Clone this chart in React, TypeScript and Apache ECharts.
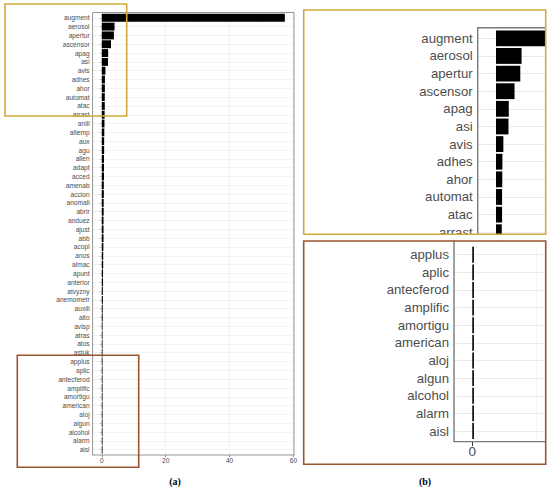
import React, { useEffect, useRef } from "react";
import * as echarts from "echarts";

const categories = [
  "augment", "aerosol", "apertur", "ascensor", "apag", "asi", "avis", "adhes", "ahor", "automat",
  "atac", "arrast", "anill", "altemp", "aux", "agu", "allen", "adapt", "acced", "amenab",
  "accion", "anomali", "abrir", "anduez", "ajust", "abb", "acopl", "anos", "almac", "apunt",
  "anterior", "atvyzny", "anemometr", "auxili", "alto", "avisp", "atras", "atos", "astuk", "applus",
  "aplic", "antecferod", "amplific", "amortigu", "american", "aloj", "algun", "alcohol", "alarm", "aisl",
];

const values = [
  57.3, 4.0, 3.8, 2.9, 2.0, 1.95, 1.15, 1.0, 0.98, 0.95,
  0.95, 0.9, 0.85, 0.8, 0.75, 0.75, 0.7, 0.7, 0.7, 0.65,
  0.65, 0.6, 0.6, 0.55, 0.55, 0.55, 0.5, 0.45, 0.45, 0.4,
  0.4, 0.35, 0.35, 0.3, 0.3, 0.25, 0.25, 0.25, 0.25, 0.25,
  0.25, 0.25, 0.25, 0.25, 0.25, 0.25, 0.25, 0.25, 0.25, 0.25,
];

const mainTicks = [0, 20, 40, 60];
const mainMinorTicks = [10, 30, 50];
const insetTicks = [0];
const insetMinorTicks = [10];
const topInsetRange = [0, 11];
const bottomInsetRange = [39, 49];
const captions = ["(a)", "(b)"];

const FONT = '"Liberation Sans", Arial, Helvetica, sans-serif';
const SERIF = '"Liberation Serif", "Times New Roman", serif';
const LABEL = "#4d4d4d";
const TICK = "#333333";
const GRID = "#ebebeb";
const BORDER = "#7a7a7a";
const GOLD = "#d2aa3c";
const BROWN = "#9a5530";

const X_MIN = -2.865;
const X_MAX = 60.165;

function gridLineSeries(
  axisIdx: number,
  range: number[],
  major: number[],
  minor: number[],
  w: number
) {
  const rows: any[] = [];
  for (let i = range[0]; i <= range[1]; i++) {
    rows.push({ yAxis: i, lineStyle: { color: GRID, width: w, type: "solid" } });
  }
  const cols = major.map((v) => ({ xAxis: v, lineStyle: { color: GRID, width: w, type: "solid" } }));
  const mins = minor.map((v) => ({ xAxis: v, lineStyle: { color: "#f3f3f3", width: w * 0.6, type: "solid" } }));
  return {
    type: "line",
    xAxisIndex: axisIdx,
    yAxisIndex: axisIdx,
    data: [],
    z: 1,
    silent: true,
    markLine: {
      z: 1,
      silent: true,
      symbol: ["none", "none"],
      label: { show: false },
      emphasis: { disabled: true },
      animation: false,
      data: [...mins, ...rows, ...cols],
    },
  };
}

function barSeries(axisIdx: number) {
  return {
    type: "bar",
    xAxisIndex: axisIdx,
    yAxisIndex: axisIdx,
    data: values,
    barWidth: "90%",
    itemStyle: { color: "#000000" },
    z: 6,
    silent: true,
    clip: true,
  };
}

function caption(text: string, x: number, y: number) {
  return {
    type: "text",
    z: 101,
    silent: true,
    x,
    y,
    style: {
      text,
      fontFamily: SERIF,
      fontWeight: "bold",
      fontSize: 10,
      fill: "#000000",
      align: "center",
      verticalAlign: "middle",
      textAlign: "center",
      textVerticalAlign: "middle",
    },
  };
}

export default function App() {
  const ref = useRef<HTMLDivElement>(null);

  useEffect(() => {
    if (!ref.current) return;
    const chart = echarts.init(ref.current, undefined, { renderer: "svg" });

    const s = 3.195; // px per unit in main panel
    const s2 = s * 2;

    const option: any = {
      animation: false,
      backgroundColor: "#ffffff",
      grid: [
        { left: 92.6, top: 13.38, width: 201.4, height: 440.74, outerBoundsMode: "none", containLabel: false },
        { left: 477.7, top: 29.5, width: 68, height: 12 * 17.63, outerBoundsMode: "none", containLabel: false },
        { left: 454, top: 245.9, width: 91.7, height: 11 * 17.63, outerBoundsMode: "none", containLabel: false },
      ],
      xAxis: [
        {
          gridIndex: 0,
          type: "value",
          min: X_MIN,
          max: X_MAX,
          offset: 0.9,
          axisLine: { show: false },
          splitLine: { show: false },
          axisTick: { show: true, customValues: mainTicks, length: 2.2, lineStyle: { color: TICK, width: 0.5 } },
          axisLabel: { customValues: mainTicks, fontSize: 6.6, color: LABEL, fontFamily: FONT, margin: 2 },
        },
        {
          gridIndex: 1,
          type: "value",
          min: X_MIN,
          max: X_MIN + 68 / s2,
          show: false,
          splitLine: { show: false },
        },
        {
          gridIndex: 2,
          type: "value",
          min: X_MIN,
          max: X_MIN + 91.7 / s2,
          offset: 1.8,
          axisLine: { show: false },
          splitLine: { show: false },
          axisTick: { show: true, customValues: insetTicks, length: 4.4, lineStyle: { color: TICK, width: 1 } },
          axisLabel: { customValues: insetTicks, fontSize: 13.5, color: LABEL, fontFamily: FONT, margin: 3 },
        },
      ],
      yAxis: [
        {
          gridIndex: 0,
          type: "category",
          data: categories,
          inverse: true,
          axisLine: { show: false },
          splitLine: { show: false },
          axisTick: { show: true, alignWithLabel: true, length: 2.2, lineStyle: { color: TICK, width: 0.5 } },
          axisLabel: { fontSize: 6.6, color: LABEL, fontFamily: FONT, margin: 3, interval: 0 },
        },
        {
          gridIndex: 1,
          type: "category",
          data: categories,
          inverse: true,
          min: topInsetRange[0],
          max: topInsetRange[1],
          axisLine: { show: false },
          splitLine: { show: false },
          axisTick: { show: true, alignWithLabel: true, length: 4.4, lineStyle: { color: TICK, width: 1 } },
          axisLabel: { fontSize: 13.2, color: LABEL, fontFamily: FONT, margin: 5, interval: 0 },
        },
        {
          gridIndex: 2,
          type: "category",
          data: categories,
          inverse: true,
          min: bottomInsetRange[0],
          max: bottomInsetRange[1],
          axisLine: { show: false },
          splitLine: { show: false },
          axisTick: { show: true, alignWithLabel: true, length: 4.4, lineStyle: { color: TICK, width: 1 } },
          axisLabel: { fontSize: 13.2, color: LABEL, fontFamily: FONT, margin: 5, interval: 0 },
        },
      ],
      series: [
        gridLineSeries(0, [0, categories.length - 1], mainTicks, mainMinorTicks, 0.6),
        gridLineSeries(1, topInsetRange, insetTicks, [], 1.2),
        gridLineSeries(2, bottomInsetRange, insetTicks, insetMinorTicks, 1.2),
        barSeries(0),
        barSeries(1),
        barSeries(2),
      ],
      graphic: {
        elements: [
          {
            type: "rect",
            z: 50,
            silent: true,
            shape: { x: 92.6, y: 12.5, width: 201.4, height: 442.5 },
            style: { fill: "none", stroke: BORDER, lineWidth: 0.8 },
          },
          {
            type: "polyline",
            z: 50,
            silent: true,
            shape: { points: [[477.7, 240], [477.7, 27.7], [546, 27.7]] },
            style: { fill: "none", stroke: BORDER, lineWidth: 1.4 },
          },
          {
            type: "polyline",
            z: 50,
            silent: true,
            shape: { points: [[454, 240], [454, 441.6], [546, 441.6]] },
            style: { fill: "none", stroke: BORDER, lineWidth: 1.4 },
          },
          {
            type: "rect",
            z: 100,
            silent: true,
            shape: { x: 298, y: 235, width: 252, height: 5.5 },
            style: { fill: "#ffffff" },
          },
          {
            type: "rect",
            z: 101,
            silent: true,
            shape: { x: 5, y: 4, width: 121.7, height: 112 },
            style: { fill: "none", stroke: GOLD, lineWidth: 1.6 },
          },
          {
            type: "rect",
            z: 101,
            silent: true,
            shape: { x: 17.3, y: 355.3, width: 121.4, height: 112 },
            style: { fill: "none", stroke: BROWN, lineWidth: 1.6 },
          },
          {
            type: "rect",
            z: 101,
            silent: true,
            shape: { x: 303.7, y: 10, width: 242, height: 224.3 },
            style: { fill: "none", stroke: GOLD, lineWidth: 1.6 },
          },
          {
            type: "rect",
            z: 101,
            silent: true,
            shape: { x: 303.7, y: 241, width: 242, height: 223.3 },
            style: { fill: "none", stroke: BROWN, lineWidth: 1.6 },
          },
          caption(captions[0], 175, 481.5),
          caption(captions[1], 425, 481.5),
        ],
      },
    };

    chart.setOption(option);
    return () => {
      chart.dispose();
    };
  }, []);

  return (
    <div
      ref={ref}
      style={{ position: "fixed", left: 0, top: 0, width: 550, height: 490, background: "#fff" }}
    />
  );
}
